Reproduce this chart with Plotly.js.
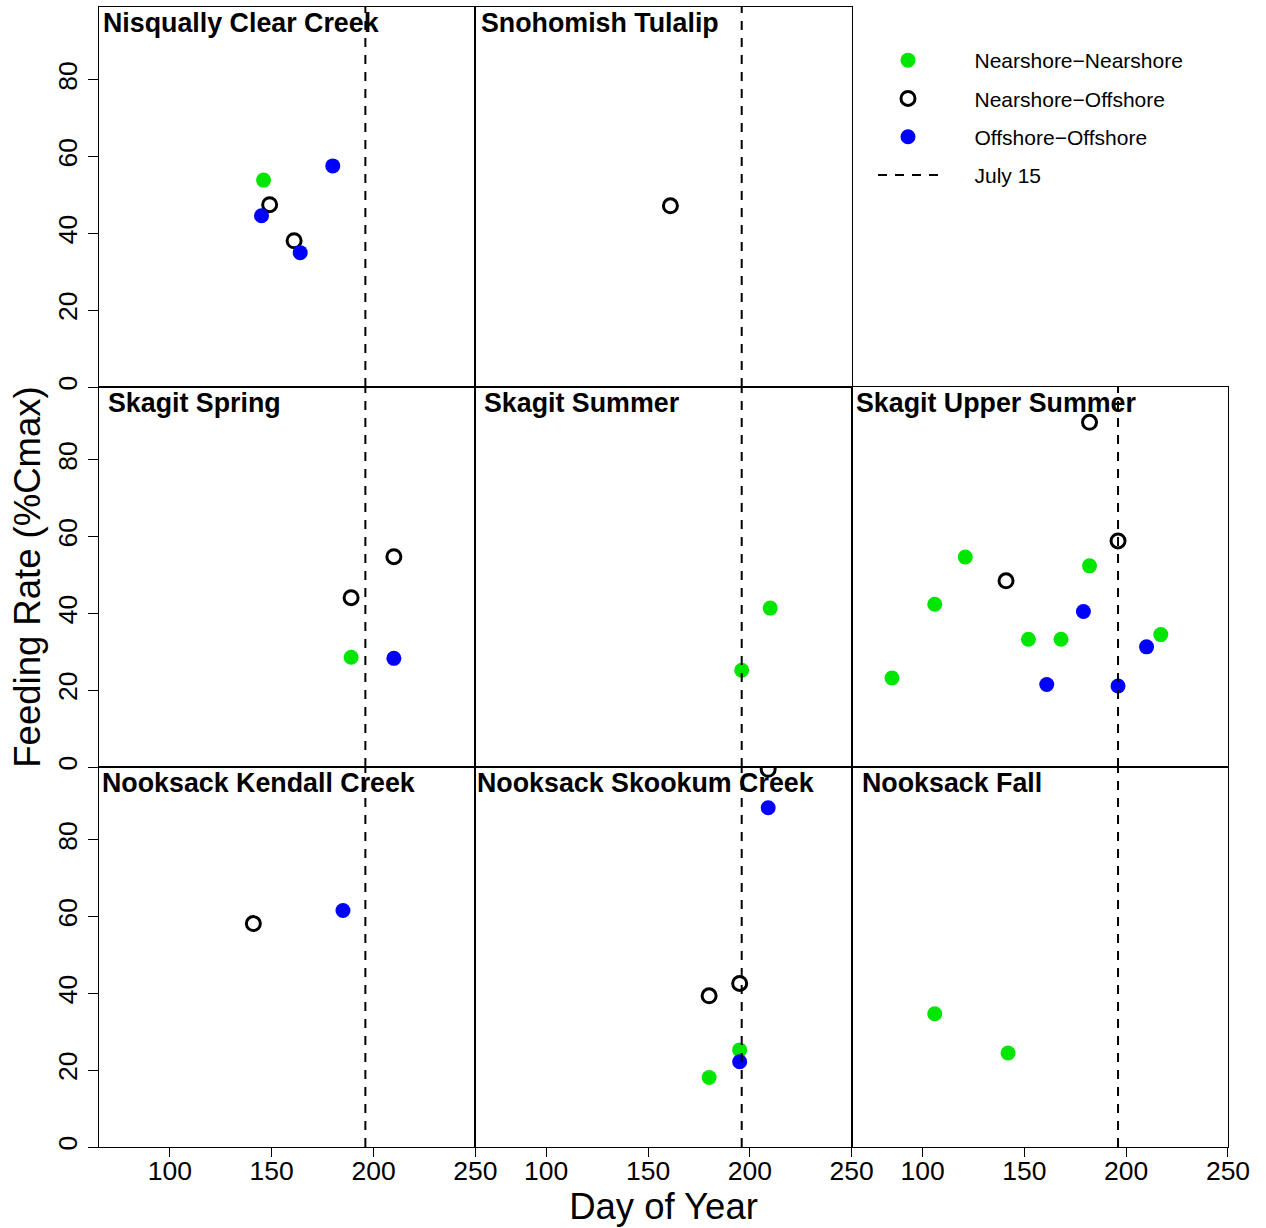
<!DOCTYPE html>
<html><head><meta charset="utf-8">
<script src="https://cdn.plot.ly/plotly-3.0.1.min.js"></script>
<style>html,body{margin:0;padding:0;background:#fff}</style>
</head><body><div id="chart" style="width:1266px;height:1228px"></div>
<script>
// ---- data ----
const panelNames = ['Nisqually Clear Creek', 'Snohomish Tulalip', 'Skagit Spring', 'Skagit Summer',
  'Skagit Upper Summer', 'Nooksack Kendall Creek', 'Nooksack Skookum Creek', 'Nooksack Fall'];
const panelRow = [0, 0, 1, 1, 1, 2, 2, 2];
const panelCol = [0, 1, 0, 1, 2, 0, 1, 2];

// Nearshore-Nearshore (green)
const nnPanel = [0, 2, 3, 3, 4, 4, 4, 4, 4, 4, 4, 6, 6, 7, 7];
const nnDay   = [146, 189, 210, 196, 121, 182, 106, 152, 168, 217, 85, 195, 180, 106, 142];
const nnRate  = [53.9, 28.6, 41.4, 25.2, 54.7, 52.4, 42.4, 33.3, 33.3, 34.5, 23.2, 25.3, 18.1, 34.7, 24.5];

// Nearshore-Offshore (open black)
const noPanel = [0, 0, 1, 2, 2, 4, 4, 4, 5, 6, 6, 6];
const noDay   = [149, 161, 161, 210, 189, 182, 196, 141, 141, 209, 195, 180];
const noRate  = [47.5, 38.1, 47.2, 54.8, 44.1, 89.8, 58.9, 48.5, 58.2, 98.4, 42.6, 39.4];

// Offshore-Offshore (blue)
const ooPanel = [0, 0, 0, 2, 4, 4, 4, 4, 5, 6, 6];
const ooDay   = [180, 145, 164, 210, 179, 210, 161, 196, 185, 209, 195];
const ooRate  = [57.6, 44.6, 35.0, 28.3, 40.5, 31.3, 21.5, 21.1, 61.6, 88.4, 22.2];

const julyDay = 196;            // July 15
const xTicks = [100, 150, 200, 250];
const yTicks = [0, 20, 40, 60, 80];
const xRange = [65.2, 250];
const yRange = [0, 99];

const groupNames = ['Nearshore\u2212Nearshore', 'Nearshore\u2212Offshore', 'Offshore\u2212Offshore'];
const lineName = 'July 15';

// ---- build ----
const FONT = 'Liberation Sans, Arial, Helvetica, sans-serif';
const pad = '\u2002\u2002\u2002';
const colDom = [[0, 1/3], [1/3, 2/3], [2/3, 1]];
const rowDom = [[2/3, 1], [1/3, 2/3], [0, 1/3]];
const axSuffix = i => (i === 0 ? '' : String(i + 1));

const lineStyle = {color: 'black', width: 2, dash: '9px,8px'};
const groups = [
  {panel: nnPanel, day: nnDay, rate: nnRate, name: groupNames[0],
   marker: {symbol: 'circle', size: 15, color: '#00E600', line: {width: 0}}},
  {panel: noPanel, day: noDay, rate: noRate, name: groupNames[1],
   marker: {symbol: 'circle-open', size: 14, color: 'black', line: {width: 3, color: 'black'}}},
  {panel: ooPanel, day: ooDay, rate: ooRate, name: groupNames[2],
   marker: {symbol: 'circle', size: 15, color: '#0000FF', line: {width: 0}}}
];

const traces = [];
groups.forEach((g, gi) => {
  let first = true;
  for (let p = 0; p < panelNames.length; p++) {
    const xs = [], ys = [];
    g.panel.forEach((pp, k) => { if (pp === p) { xs.push(g.day[k]); ys.push(g.rate[k]); } });
    if (!xs.length) continue;
    traces.push({
      type: 'scatter', mode: 'markers', x: xs, y: ys,
      xaxis: 'x' + axSuffix(p), yaxis: 'y' + axSuffix(p),
      name: pad + g.name, legendgroup: 'g' + gi, showlegend: first,
      marker: g.marker, hoverinfo: 'x+y'
    });
    first = false;
  }
});
for (let p = 0; p < panelNames.length; p++) {
  traces.push({
    type: 'scatter', mode: 'lines', x: [julyDay, julyDay], y: yRange,
    xaxis: 'x' + axSuffix(p), yaxis: 'y' + axSuffix(p),
    name: pad + lineName, legendgroup: 'g3', showlegend: p === 0,
    line: lineStyle, hoverinfo: 'skip'
  });
}

const layout = {
  width: 1266, height: 1228,
  margin: {l: 99, r: 38, t: 7, b: 81, pad: 0},
  paper_bgcolor: 'white', plot_bgcolor: 'white',
  font: {family: FONT, color: 'black'},
  showlegend: true,
  legend: {
    x: (873 - 99) / 1129, y: 1 - (40 - 7) / 1140, xanchor: 'left', yanchor: 'top',
    bgcolor: 'rgba(0,0,0,0)', borderwidth: 0,
    font: {family: FONT, size: 21, color: 'black'},
    itemwidth: 60, itemsizing: 'trace', traceorder: 'grouped', tracegroupgap: 8
  },
  annotations: [],
  hovermode: 'closest'
};

for (let p = 0; p < panelNames.length; p++) {
  const r = panelRow[p], c = panelCol[p], s = axSuffix(p);
  layout['xaxis' + s] = {
    domain: colDom[c], range: xRange, anchor: 'y' + s,
    showline: true, mirror: true, linecolor: 'black', linewidth: 1,
    showgrid: false, zeroline: false,
    ticks: r === 2 ? 'outside' : '', ticklen: 9, tickwidth: 1, tickcolor: 'black',
    tickmode: 'array', tickvals: xTicks, showticklabels: r === 2, ticklabelstandoff: -9,
    tickfont: {family: FONT, size: 26.5, color: 'black'}
  };
  layout['yaxis' + s] = {
    domain: rowDom[r], range: yRange, anchor: 'x' + s,
    showline: true, mirror: true, linecolor: 'black', linewidth: 1,
    showgrid: false, zeroline: false,
    ticks: c === 0 ? 'outside' : '', ticklen: 10, tickwidth: 1, tickcolor: 'black',
    tickmode: 'array', tickvals: yTicks, showticklabels: c === 0, tickangle: -90,
    tickfont: {family: FONT, size: 26.5, color: 'black'}
  };
}
layout.yaxis3.title = {text: 'Feeding Rate (%Cmax)', font: {family: FONT, size: 36.5, color: 'black'}, standoff: 1};
layout.xaxis7.title = {text: 'Day of Year', font: {family: FONT, size: 36.5, color: 'black'}, standoff: 7};

const titleOffset = [2, 3.7, 7, 6.7, 2.3, 0.7, 0, 8];
for (let p = 0; p < panelNames.length; p++) {
  const s = axSuffix(p);
  layout.annotations.push({
    text: '<b>' + panelNames[p] + '</b>', showarrow: false,
    xref: 'x' + s + ' domain', yref: 'y' + s + ' domain',
    x: titleOffset[p] / 376.3, y: 1, yshift: 1, xanchor: 'left', yanchor: 'top',
    font: {family: FONT, size: 26.8, color: 'black'}
  });
}

Plotly.newPlot('chart', traces, layout, {displayModeBar: false, staticPlot: true});
</script>
</body></html>
